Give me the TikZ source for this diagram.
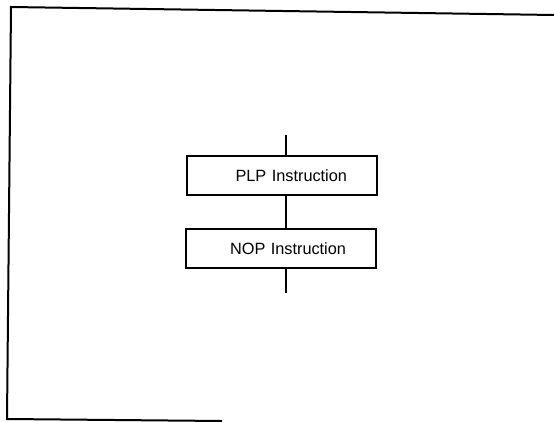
\documentclass[tikz,border=0pt]{standalone}
\usepackage{fontspec}
\setmainfont{Liberation Sans}
\begin{document}
\begin{tikzpicture}[x=1pt,y=-1pt,
  frameline/.style={line width=2pt},
  flowline/.style={line width=2.5pt},
  stepbox/.style={draw, line width=2pt, rectangle, minimum height=39pt,
    text width=130pt, align=right, inner xsep=30pt, inner ysep=0pt,
    font=\fontsize{16.3}{19}\selectfont}]
  \useasboundingbox (0,0) rectangle (554,422);
  % page frame
  \coordinate (ftl) at (11,7);
  \coordinate (ftr) at (554,15);
  \coordinate (fbl) at (7,419);
  \coordinate (fbr) at (222,421);
  \draw[frameline] (ftr) -- (ftl) -- (fbl) -- (fbr);
  % instruction boxes
  \node[stepbox] (plp) at (282,176) {PLP Instruction};
  \node[stepbox] (nop) at (281,248.5) {NOP Instruction};
  % flow line
  \coordinate (top) at (286,135);
  \coordinate (bot) at (286,293);
  \draw[flowline] (top) -- (top |- plp.north);
  \draw[flowline] (plp.south -| top) -- (nop.north -| top);
  \draw[flowline] (nop.south -| bot) -- (bot);
\end{tikzpicture}
\end{document}
